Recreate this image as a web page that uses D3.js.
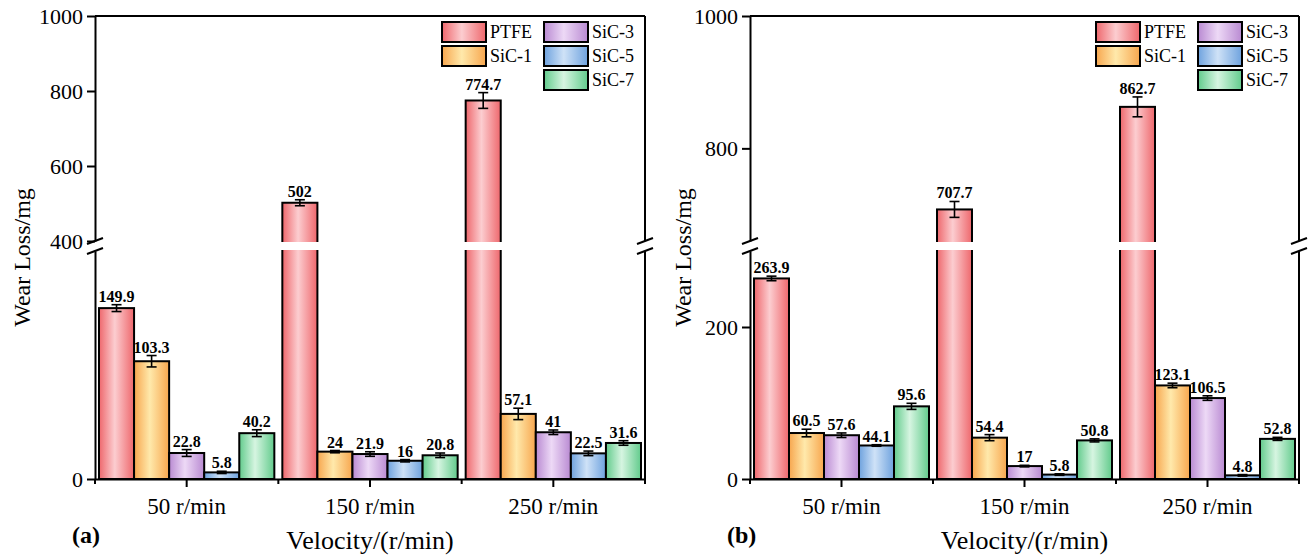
<!DOCTYPE html>
<html>
<head>
<meta charset="utf-8">
<script src="https://cdn.jsdelivr.net/npm/d3@7"></script>
<style>
  body { margin: 0; background: #fff; }
  text { font-family: "Liberation Serif", "Times New Roman", serif; }
</style>
</head>
<body>
<svg id="chart"></svg>
<script>
// categories and series
const velocities = ["50 r/min", "150 r/min", "250 r/min"];
const materials = ["PTFE", "SiC-1", "SiC-3", "SiC-5", "SiC-7"];

// panel (a) wear loss, one array per material (values at 50/150/250 r/min)
const ptfeA = [149.9, 502, 774.7];
const sic1A = [103.3, 24, 57.1];
const sic3A = [22.8, 21.9, 41];
const sic5A = [5.8, 16, 22.5];
const sic7A = [40.2, 20.8, 31.6];
// panel (a) error estimates
const ptfeErrA = [3, 8, 21];
const sic1ErrA = [5, 1, 5];
const sic3ErrA = [3, 2, 2];
const sic5ErrA = [1, 1, 2];
const sic7ErrA = [3, 2, 2];

// panel (b)
const ptfeB = [263.9, 707.7, 862.7];
const sic1B = [60.5, 54.4, 123.1];
const sic3B = [57.6, 17, 106.5];
const sic5B = [44.1, 5.8, 4.8];
const sic7B = [95.6, 50.8, 52.8];
const ptfeErrB = [3, 12, 15];
const sic1ErrB = [5, 4, 3];
const sic3ErrB = [3, 1, 3];
const sic5ErrB = [1, 1, 1];
const sic7ErrB = [4, 2, 2];

// y tick labels
const lowTicksA = [0];
const highTicksA = [400, 600, 800, 1000];
const lowTicksB = [0, 200];
const highTicksB = [800, 1000];

// colours: edge / centre of the shaded bars
const edgeColors = ["#ee676c", "#f7a64e", "#b98ad2", "#6ea2de", "#62cb8c"];
const midColors  = ["#fccdd0", "#ffe9ab", "#edd9f6", "#cfe2f7", "#d6f5e1"];

const width = 1314, height = 556;
const svg = d3.select("#chart").attr("width", width).attr("height", height);

// gradients
const defs = svg.append("defs");
materials.forEach((m, i) => {
  const g = defs.append("linearGradient")
    .attr("id", "grad" + i)
    .attr("x1", "0%").attr("x2", "100%").attr("y1", "0%").attr("y2", "0%");
  g.append("stop").attr("offset", "0%").attr("stop-color", edgeColors[i]);
  g.append("stop").attr("offset", "45%").attr("stop-color", midColors[i]);
  g.append("stop").attr("offset", "100%").attr("stop-color", edgeColors[i]);
});

const panels = [
  {
    label: "(a)", x0: 95, x1: 645, top: 16, bottom: 479,
    low: [0, 200], lowTop: 251, high: [400, 1000], highBottom: 241,
    lowTicks: lowTicksA, highTicks: highTicksA, titleX: 22,
    values: [ptfeA, sic1A, sic3A, sic5A, sic7A],
    errors: [ptfeErrA, sic1ErrA, sic3ErrA, sic5ErrA, sic7ErrA]
  },
  {
    label: "(b)", x0: 750, x1: 1299, top: 16, bottom: 479,
    low: [0, 300], lowTop: 251, high: [660, 1000], highBottom: 241,
    lowTicks: lowTicksB, highTicks: highTicksB, titleX: 683,
    values: [ptfeB, sic1B, sic3B, sic5B, sic7B],
    errors: [ptfeErrB, sic1ErrB, sic3ErrB, sic5ErrB, sic7ErrB]
  }
];

panels.forEach(p => {
  const g = svg.append("g");

  // broken y scale
  const yLow = d3.scaleLinear().domain(p.low).range([p.bottom, p.lowTop]);
  const yHigh = d3.scaleLinear().domain(p.high).range([p.highBottom, p.top]);
  const y = v => v <= p.low[1] ? yLow(v) : yHigh(v);

  const x = d3.scaleBand().domain(velocities).range([p.x0, p.x1]);
  const xIn = d3.scaleBand().domain(materials)
    .range([4, x.bandwidth() - 4]);

  // bars
  velocities.forEach((vel, ci) => {
    materials.forEach((m, si) => {
      const v = p.values[si][ci];
      const e = p.errors[si][ci];
      const bx = x(vel) + xIn(m);
      const bw = xIn.bandwidth();
      g.append("rect")
        .attr("x", bx).attr("y", y(v))
        .attr("width", bw).attr("height", y(0) - y(v))
        .attr("fill", `url(#grad${si})`)
        .attr("stroke", "#000").attr("stroke-width", 2);

      // white gap where the bar crosses the break
      if (v > p.low[1]) {
        g.append("rect")
          .attr("x", bx - 2).attr("y", p.highBottom + 1)
          .attr("width", bw + 4).attr("height", p.lowTop - p.highBottom - 2)
          .attr("fill", "#fff");
      }

      // error bar
      const cx = bx + bw / 2;
      const yt = y(v + e), yb = y(v - e);
      g.append("line").attr("x1", cx).attr("x2", cx).attr("y1", yt).attr("y2", yb)
        .attr("stroke", "#000").attr("stroke-width", 1.6);
      [yt, yb].forEach(yy => g.append("line")
        .attr("x1", cx - 5).attr("x2", cx + 5).attr("y1", yy).attr("y2", yy)
        .attr("stroke", "#000").attr("stroke-width", 1.6));

      // value label
      g.append("text")
        .attr("x", cx).attr("y", Math.min(yt, y(v)) - 3)
        .attr("text-anchor", "middle")
        .attr("font-size", 16).attr("font-weight", "bold")
        .text(v);
    });
  });

  // frame: top and right
  g.append("line").attr("x1", p.x0).attr("x2", p.x1).attr("y1", p.top).attr("y2", p.top)
    .attr("stroke", "#000").attr("stroke-width", 2);
  [[p.top, p.highBottom], [p.lowTop, p.bottom]].forEach(([a, b]) => {
    g.append("line").attr("x1", p.x1).attr("x2", p.x1).attr("y1", a).attr("y2", b)
      .attr("stroke", "#000").attr("stroke-width", 2);
  });

  // left axis, two pieces
  const axHigh = g.append("g").attr("transform", `translate(${p.x0},0)`)
    .call(d3.axisLeft(yHigh).tickValues(p.highTicks).tickFormat(d3.format("d"))
      .tickSize(8).tickSizeOuter(0).tickPadding(4));
  const axLow = g.append("g").attr("transform", `translate(${p.x0},0)`)
    .call(d3.axisLeft(yLow).tickValues(p.lowTicks).tickFormat(d3.format("d"))
      .tickSize(8).tickSizeOuter(0).tickPadding(4));
  [axHigh, axLow].forEach(a => {
    a.select(".domain").attr("stroke-width", 2);
    a.selectAll(".tick line").attr("stroke-width", 2);
    a.selectAll("text").attr("font-size", 22);
  });

  // break marks on both vertical axes
  [p.x0, p.x1].forEach(ax => {
    [p.highBottom, p.lowTop].forEach(yy => {
      g.append("line")
        .attr("x1", ax - 8).attr("x2", ax + 8)
        .attr("y1", yy + 3).attr("y2", yy - 3)
        .attr("stroke", "#000").attr("stroke-width", 2);
    });
  });

  // bottom axis
  const axX = g.append("g").attr("transform", `translate(0,${p.bottom})`)
    .call(d3.axisBottom(x).tickSize(8).tickSizeOuter(0).tickPadding(11));
  axX.select(".domain").attr("stroke-width", 2);
  axX.selectAll(".tick line").attr("stroke-width", 2);
  axX.selectAll("text").attr("font-size", 23);
  // small ticks between groups
  d3.range(4).forEach(k => {
    const bx = p.x0 + k * x.bandwidth();
    g.append("line").attr("x1", bx).attr("x2", bx)
      .attr("y1", p.bottom).attr("y2", p.bottom + 5)
      .attr("stroke", "#000").attr("stroke-width", 2);
  });

  // axis titles
  g.append("text")
    .attr("transform", `translate(${p.titleX},${(p.top + p.bottom) / 2 + 10}) rotate(-90)`)
    .attr("text-anchor", "middle").attr("dominant-baseline", "central")
    .attr("font-size", 24).text("Wear Loss/mg");
  g.append("text")
    .attr("x", (p.x0 + p.x1) / 2).attr("y", 549)
    .attr("text-anchor", "middle").attr("font-size", 26)
    .text("Velocity/(r/min)");
  g.append("text")
    .attr("x", p.x0 - 23).attr("y", 543)
    .attr("font-size", 24).attr("font-weight", "bold")
    .text(p.label);

  // legend
  const legendOrder = [[0, 0, 0], [1, 0, 1], [2, 1, 0], [3, 1, 1], [4, 1, 2]];
  legendOrder.forEach(([si, col, row]) => {
    const lx = p.x1 - 203 + col * 102;
    const ly = 22 + row * 24;
    g.append("rect")
      .attr("x", lx).attr("y", ly).attr("width", 44).attr("height", 20)
      .attr("fill", `url(#grad${si})`)
      .attr("stroke", "#000").attr("stroke-width", 2);
    g.append("text")
      .attr("x", lx + 48).attr("y", ly + 16)
      .attr("font-size", 18).text(materials[si]);
  });
});
</script>
</body>
</html>
